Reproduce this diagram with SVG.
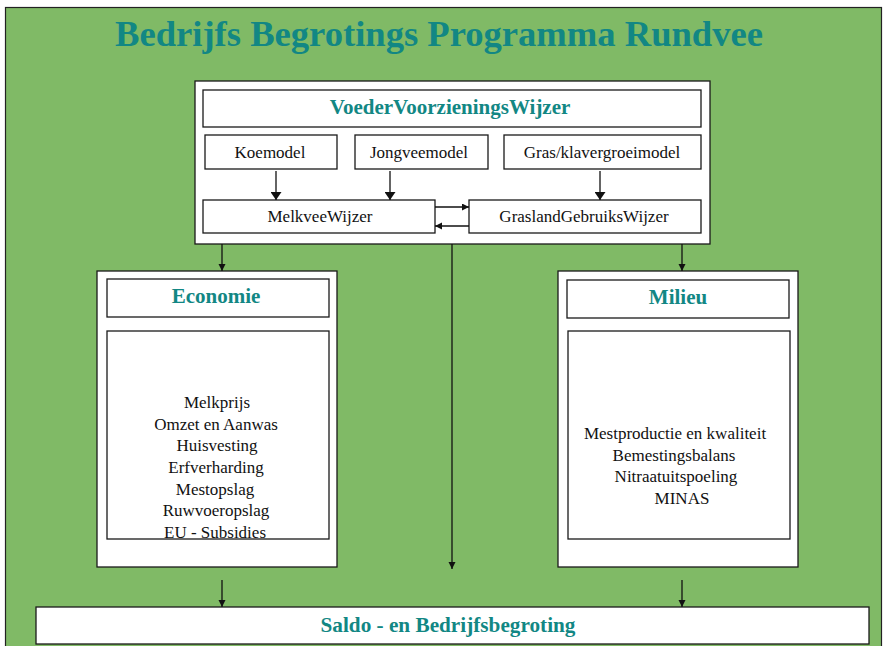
<svg xmlns="http://www.w3.org/2000/svg" width="883" height="646" viewBox="0 0 883 646">
<defs>
<style>
.bg{fill:#80BA66;stroke:#222;stroke-width:1.2}
.box{fill:#fff;stroke:#1a1a1a;stroke-width:1.3}
.lbl{font-family:"Liberation Serif","Times New Roman",serif;font-size:17px;fill:#111;text-anchor:middle}
.hd{font-family:"Liberation Serif","Times New Roman",serif;font-size:21px;font-weight:bold;fill:#128784;text-anchor:middle}
.ttl{font-family:"Liberation Serif","Times New Roman",serif;font-size:36px;font-weight:bold;fill:#128784;text-anchor:middle}
.ln{stroke:#111;stroke-width:1.3;fill:none}
</style>
<marker id="ab" markerUnits="userSpaceOnUse" markerWidth="9" markerHeight="11" refX="8" refY="5.5" orient="auto">
<path d="M0,0 L8,5.5 L0,11 z" fill="#111"/>
</marker>
<marker id="as" markerUnits="userSpaceOnUse" markerWidth="8" markerHeight="8" refX="7" refY="3.5" orient="auto">
<path d="M0,0 L7,3.5 L0,7 z" fill="#111"/>
</marker>
</defs>
<rect class="bg" x="5.5" y="7.5" width="876" height="645"/>
<text class="ttl" x="439" y="46" textLength="648" lengthAdjust="spacingAndGlyphs">Bedrijfs Begrotings Programma Rundvee</text>

<g id="vvw">
<rect class="box" x="195" y="81" width="515" height="163"/>
<rect class="box" x="203" y="90" width="498" height="37"/>
<text class="hd" x="450" y="114">VoederVoorzieningsWijzer</text>
</g>
<g id="koemodel">
<rect class="box" x="205" y="135" width="132" height="34"/>
<text class="lbl" x="270" y="158">Koemodel</text>
</g>
<g id="jongveemodel">
<rect class="box" x="355" y="135" width="133" height="34"/>
<text class="lbl" x="419" y="158">Jongveemodel</text>
</g>
<g id="grasklaver">
<rect class="box" x="504" y="135" width="197" height="34"/>
<text class="lbl" x="602" y="158">Gras/klavergroeimodel</text>
</g>
<g id="melkveewijzer">
<rect class="box" x="203" y="200" width="232" height="33"/>
<text class="lbl" x="320" y="222">MelkveeWijzer</text>
</g>
<g id="graslandwijzer">
<rect class="box" x="469" y="200" width="232" height="33"/>
<text class="lbl" x="584" y="222">GraslandGebruiksWijzer</text>
</g>

<g id="economie">
<rect class="box" x="97" y="271" width="240" height="296"/>
<rect class="box" x="107" y="279" width="222" height="38"/>
<text class="hd" x="216" y="303">Economie</text>
<rect class="box" x="107" y="331" width="222" height="208"/>
<text class="lbl" x="217" y="408">Melkprijs</text>
<text class="lbl" x="216" y="429.5">Omzet en Aanwas</text>
<text class="lbl" x="217" y="451">Huisvesting</text>
<text class="lbl" x="216" y="473">Erfverharding</text>
<text class="lbl" x="215" y="494.5">Mestopslag</text>
<text class="lbl" x="216" y="516">Ruwvoeropslag</text>
<text class="lbl" x="215" y="537.5">EU - Subsidies</text>
</g>

<g id="milieu">
<rect class="box" x="558" y="271" width="240" height="296"/>
<rect class="box" x="567" y="280" width="222" height="38"/>
<text class="hd" x="678" y="304">Milieu</text>
<rect class="box" x="568" y="331" width="222" height="208"/>
<text class="lbl" x="675" y="439">Mestproductie en kwaliteit</text>
<text class="lbl" x="674" y="460.5">Bemestingsbalans</text>
<text class="lbl" x="676" y="482">Nitraatuitspoeling</text>
<text class="lbl" x="682" y="503.5">MINAS</text>
</g>

<g id="saldo">
<rect class="box" x="36" y="607" width="833" height="37"/>
<text class="hd" x="448" y="632" textLength="255" lengthAdjust="spacingAndGlyphs">Saldo - en Bedrijfsbegroting</text>
</g>

<g id="connectors">
<line class="ln" x1="276" y1="171" x2="276" y2="200" marker-end="url(#ab)"/>
<line class="ln" x1="390" y1="171" x2="390" y2="200" marker-end="url(#ab)"/>
<line class="ln" x1="600" y1="171" x2="600" y2="200" marker-end="url(#ab)"/>
<line class="ln" x1="435" y1="207" x2="469" y2="207" marker-end="url(#as)"/>
<line class="ln" x1="469" y1="226" x2="435" y2="226" marker-end="url(#as)"/>
<line class="ln" x1="222" y1="244" x2="222" y2="271" marker-end="url(#as)"/>
<line class="ln" x1="682" y1="244" x2="682" y2="271" marker-end="url(#as)"/>
<line class="ln" x1="452" y1="244" x2="452" y2="569" marker-end="url(#as)"/>
<line class="ln" x1="222" y1="580" x2="222" y2="607" marker-end="url(#as)"/>
<line class="ln" x1="682" y1="580" x2="682" y2="607" marker-end="url(#as)"/>
</g>
</svg>
